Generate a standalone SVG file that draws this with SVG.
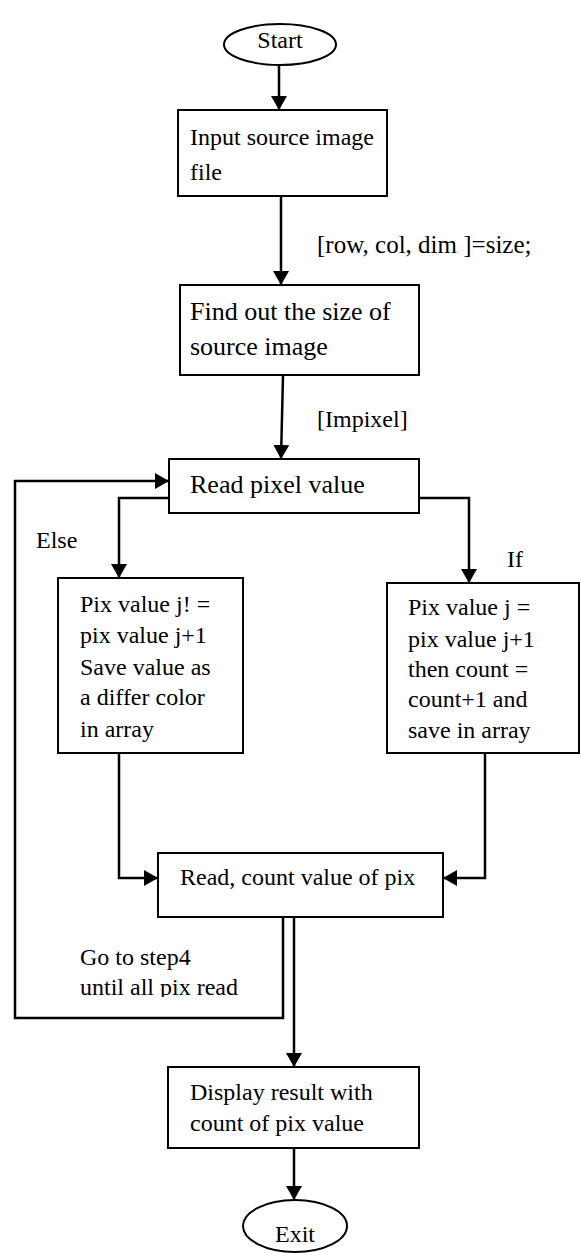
<svg xmlns="http://www.w3.org/2000/svg" width="581" height="1253" viewBox="0 0 581 1253">
  <style>
    .shape { fill: #fff; stroke: #000; stroke-width: 2; }
    .wire { fill: none; stroke: #000; stroke-width: 2.5; }
    .t { font-family: "Liberation Serif", "Times New Roman", serif; font-size: 24px; fill: #000; }
    .big { font-size: 26px; }
    .lbl { font-size: 25px; }
  </style>
  <defs>
    <marker id="arrow" viewBox="0 0 14 16" refX="14" refY="8" markerWidth="14" markerHeight="16" markerUnits="userSpaceOnUse" orient="auto">
      <path d="M0,0 L14,8 L0,16 Z" fill="#000"/>
    </marker>
    <clipPath id="clipIf"><rect x="387" y="583" width="194" height="161"/></clipPath>
    <clipPath id="clipLoop"><rect x="0" y="900" width="300" height="97"/></clipPath>
  </defs>
  <rect width="581" height="1253" fill="#fff"/>

  <!-- connectors and their labels -->
  <g id="connectors">
    <path class="wire" d="M279,65 L279,110" marker-end="url(#arrow)"/>
    <path class="wire" d="M281,196 L281,285" marker-end="url(#arrow)"/>
    <path class="wire" d="M283,375 L281,459" marker-end="url(#arrow)"/>
    <path class="wire" d="M169,498 L119,498 L119,578" marker-end="url(#arrow)"/>
    <path class="wire" d="M419,498 L469,498 L469,583" marker-end="url(#arrow)"/>
    <path class="wire" d="M119,753 L119,878 L158,878" marker-end="url(#arrow)"/>
    <path class="wire" d="M485,753 L485,878 L443,878" marker-end="url(#arrow)"/>
    <path class="wire" d="M283,917 L283,1018 L15,1018 L15,481 L169,481" marker-end="url(#arrow)"/>
    <path class="wire" d="M294,917 L294,1067" marker-end="url(#arrow)"/>
    <path class="wire" d="M294,1148 L294,1200" marker-end="url(#arrow)"/>
    <text class="t lbl" x="317" y="253">[row, col, dim ]=size;</text>
    <text class="t" x="317" y="427">[Impixel]</text>
    <text class="t" x="36" y="548">Else</text>
    <text class="t" x="507" y="567">If</text>
    <g clip-path="url(#clipLoop)">
      <text class="t" x="80" y="965">Go to step4</text>
      <text class="t" x="80" y="995">until all pix read</text>
    </g>
  </g>

  <g id="start">
    <ellipse class="shape" cx="280" cy="44.5" rx="56" ry="20.5"/>
    <text class="t" x="280" y="48" text-anchor="middle">Start</text>
  </g>

  <g id="input">
    <rect class="shape" x="178" y="110" width="209" height="86"/>
    <text class="t" x="190" y="145">Input source image</text>
    <text class="t" x="190" y="180">file</text>
  </g>

  <g id="size">
    <rect class="shape" x="180" y="285" width="239" height="90"/>
    <text class="t big" x="190" y="320">Find out the size of</text>
    <text class="t big" x="190" y="355">source image</text>
  </g>

  <g id="read">
    <rect class="shape" x="169" y="459" width="250" height="54"/>
    <text class="t big" x="190" y="493">Read pixel value</text>
  </g>

  <g id="else-box">
    <rect class="shape" x="58" y="578" width="185" height="175"/>
    <text class="t" x="80" y="612">Pix value j! =</text>
    <text class="t" x="80" y="643">pix value j+1</text>
    <text class="t" x="80" y="675">Save value as</text>
    <text class="t" x="80" y="705">a differ color</text>
    <text class="t" x="80" y="737">in array</text>
  </g>

  <g id="if-box">
    <rect class="shape" x="387" y="583" width="192" height="170"/>
    <g clip-path="url(#clipIf)">
      <text class="t" x="408" y="615">Pix value j =</text>
      <text class="t" x="408" y="647">pix value j+1</text>
      <text class="t" x="408" y="677">then count =</text>
      <text class="t" x="408" y="707">count+1 and</text>
      <text class="t" x="408" y="738">save in array</text>
    </g>
  </g>

  <g id="count">
    <rect class="shape" x="158" y="853" width="285" height="64"/>
    <text class="t" x="180" y="885">Read, count value of pix</text>
  </g>

  <g id="display">
    <rect class="shape" x="168" y="1067" width="251" height="81"/>
    <text class="t" x="190" y="1100">Display result with</text>
    <text class="t" x="190" y="1131">count of pix value</text>
  </g>

  <g id="exit">
    <ellipse class="shape" cx="295" cy="1226" rx="52" ry="26"/>
    <text class="t" x="295" y="1242" text-anchor="middle">Exit</text>
  </g>
</svg>
